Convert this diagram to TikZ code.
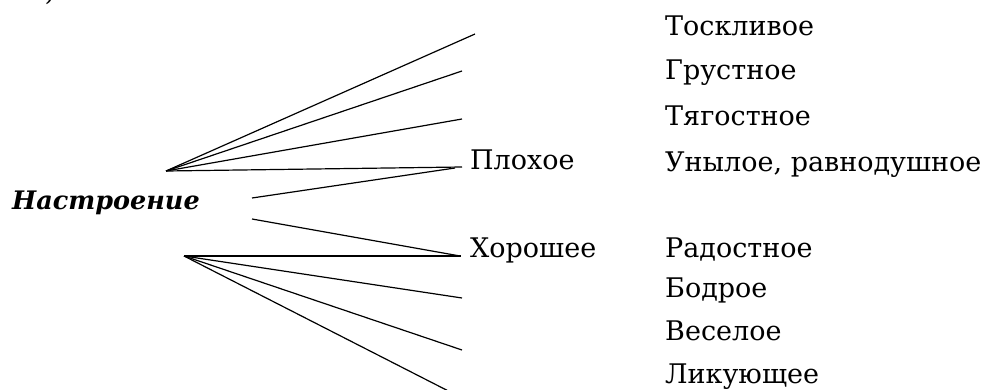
\documentclass[tikz,border=0pt]{standalone}
\usepackage{fontspec}
\setmainfont{DejaVu Serif}
\begin{document}
\begin{tikzpicture}[x=1pt,y=-1pt,
  lbl/.style={anchor=base west,inner sep=0pt,font=\fontsize{27}{30}\selectfont},
  ttl/.style={anchor=base west,inner sep=0pt,font=\fontsize{25.5}{28}\selectfont\bfseries\itshape},
  ln/.style={line width=1.2pt,black}]
\useasboundingbox (0,0) rectangle (999,390);
% cut-off fragment at top
\node[inner sep=0pt,anchor=south,font=\fontsize{27}{30}\selectfont] (frag) at (50,5) {)};
% title
\node[ttl] (title) at (12,210) {Настроение};
% mid labels
\node[lbl] (bad) at (470,170) {Плохое};
\node[lbl] (good) at (470,258) {Хорошее};
% right labels
\node[lbl] (r1) at (665,36) {Тоскливое};
\node[lbl] (r2) at (665,80) {Грустное};
\node[lbl] (r3) at (665,126) {Тягостное};
\node[lbl] (r4) at (665,172) {Унылое, равнодушное};
\node[lbl] (r5) at (665,258) {Радостное};
\node[lbl] (r6) at (665,298) {Бодрое};
\node[lbl] (r7) at (665,340) {Веселое};
\node[lbl] (r8) at (665,383) {Ликующее};
% coordinates
\coordinate (uo) at (166,171);
\coordinate (lo) at (184,256);
\coordinate (e1) at (475,34);
\coordinate (e2) at (462,71);
\coordinate (e3) at (462,119);
\coordinate (e4) at (462,167);
\coordinate (m1s) at (252,198);
\coordinate (m1e) at (455,168);
\coordinate (m2s) at (252,219);
\coordinate (m2e) at (460,256);
\coordinate (f1) at (461,256);
\coordinate (f2) at (462,298);
\coordinate (f3) at (462,350);
\coordinate (f4) at (466,400);
% upper fan
\draw[ln] (uo) -- (e1);
\draw[ln] (uo) -- (e2);
\draw[ln] (uo) -- (e3);
\draw[ln] (uo) -- (e4);
% middle
\draw[ln] (m1s) -- (m1e);
\draw[ln] (m2s) -- (m2e);
% lower fan
\draw[ln] (lo) -- (f1);
\draw[ln] (lo) -- (f2);
\draw[ln] (lo) -- (f3);
\draw[ln] (lo) -- (f4);
\end{tikzpicture}
\end{document}
